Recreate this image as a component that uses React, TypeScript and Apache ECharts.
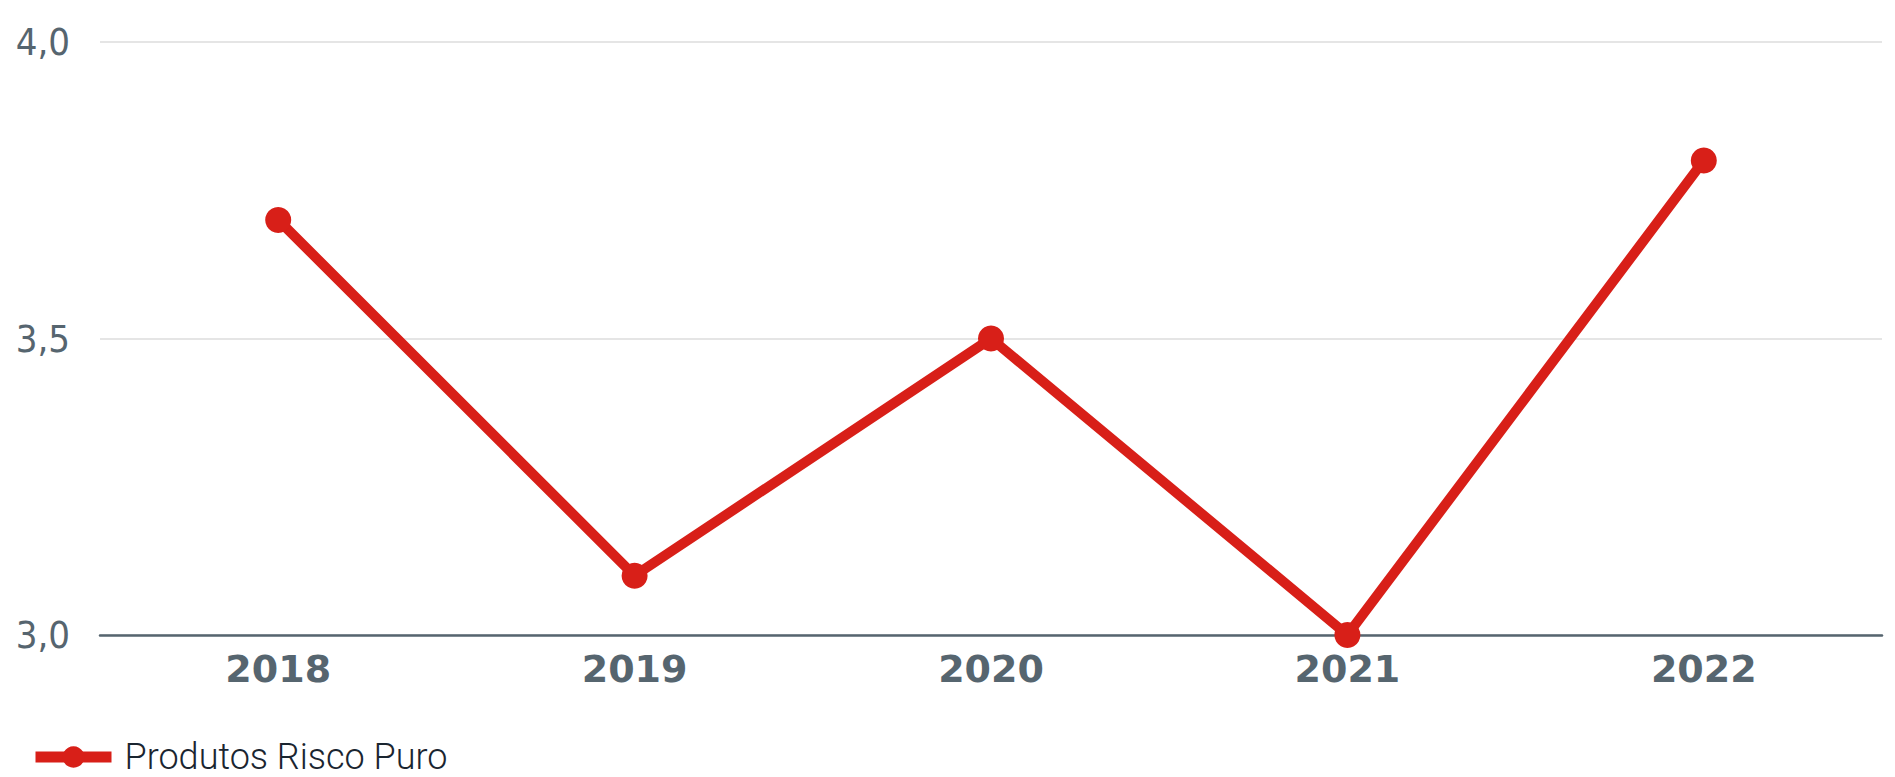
import React, { useEffect, useRef } from "react";
import * as echarts from "echarts";

const categories = ["2018", "2019", "2020", "2021", "2022"];
const seriesName = "Produtos Risco Puro";
const values = [3.7, 3.1, 3.5, 3.0, 3.8];
const yMin = 3;
const yMax = 4;
const yInterval = 0.5;

export default function App() {
  const ref = useRef<HTMLDivElement>(null);
  useEffect(() => {
    document.body.style.margin = "0";
    const chart = echarts.init(ref.current!, undefined, { renderer: "svg" });
    chart.setOption({
      animation: false,
      backgroundColor: "#ffffff",
      grid: { left: 100, right: 13, top: 42, bottom: 142 },
      legend: {
        left: 30,
        top: 739,
        padding: 0,
        itemWidth: 76,
        itemHeight: 27,
        data: [seriesName],
        lineStyle: { width: 11 },
        textStyle: {
          fontFamily: "Roboto",
          fontWeight: 300,
          fontSize: 36,
          lineHeight: 36,
          color: "#1a2530",
          padding: [0, 0, 0, 8],
        },
      },
      xAxis: {
        type: "category",
        data: categories,
        boundaryGap: true,
        axisLine: { show: true, lineStyle: { color: "#56656f", width: 2.5 } },
        axisTick: { show: false },
        axisLabel: {
          margin: 15,
          fontFamily: "DejaVu Sans",
          fontWeight: "bold",
          fontSize: 38,
          color: "#56656f",
        },
      },
      yAxis: {
        type: "value",
        min: yMin,
        max: yMax,
        interval: yInterval,
        axisLine: { show: false },
        axisTick: { show: false },
        splitLine: { lineStyle: { color: "#dcdcdc", width: 1.5 } },
        axisLabel: {
          margin: 30,
          fontFamily: "'DejaVu Sans Condensed', 'Liberation Sans', sans-serif",
          fontSize: 38,
          color: "#56656f",
          formatter: (v: number) => v.toFixed(1).replace(".", ","),
        },
      },
      series: [
        {
          name: seriesName,
          type: "line",
          data: values,
          symbol: "circle",
          symbolSize: 26,
          lineStyle: { color: "#d81f18", width: 10 },
          itemStyle: { color: "#d81f18", borderWidth: 0 },
        },
      ],
    });
    return () => chart.dispose();
  }, []);
  return (
    <div
      ref={ref}
      style={{ position: "absolute", left: 0, top: 0, width: 1895, height: 777 }}
    />
  );
}
